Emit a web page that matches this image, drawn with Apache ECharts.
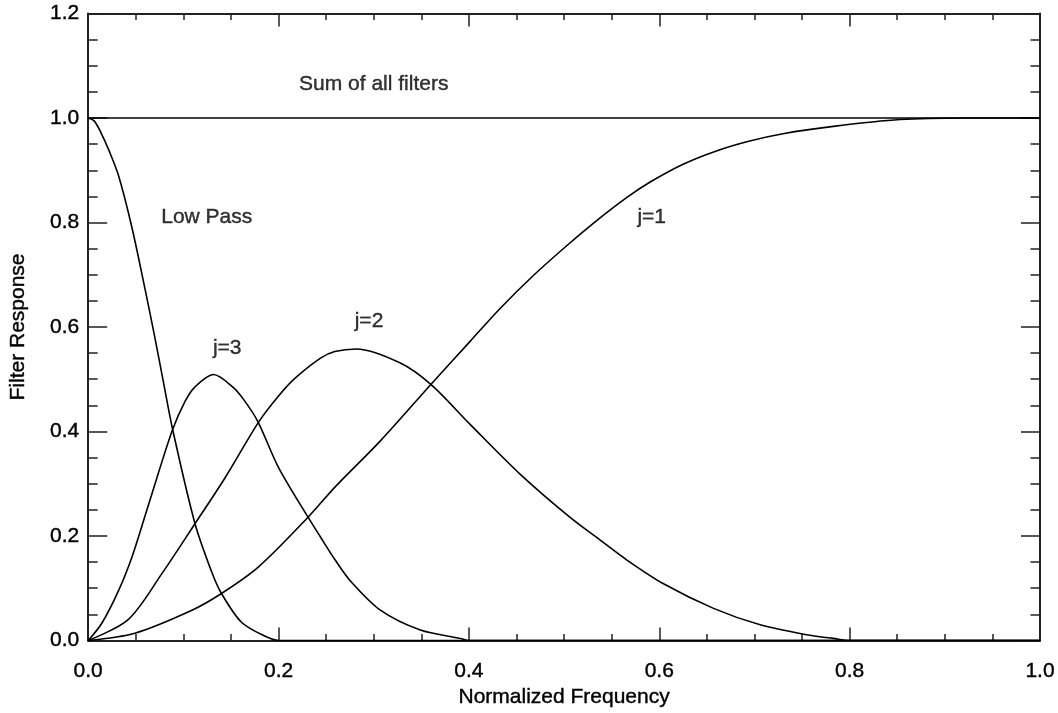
<!DOCTYPE html>
<html>
<head>
<meta charset="utf-8">
<script src="https://cdn.jsdelivr.net/npm/echarts@6/dist/echarts.min.js"></script>
<style>
html,body{margin:0;padding:0;background:#fff;}
#chart{width:1058px;height:713px;}
</style>
</head>
<body>
<div id="chart"></div>
<script>
// ---- data ----
var xTickLabels = ['0.0', '0.2', '0.4', '0.6', '0.8', '1.0'];
var yTickLabels = ['0.0', '0.2', '0.4', '0.6', '0.8', '1.0', '1.2'];

var sumX = [0, 1.0];
var sumY = [1.0, 1.0];

var lowX = [0, 0.006, 0.0126, 0.022, 0.032, 0.046, 0.060, 0.070, 0.079, 0.0887, 0.112, 0.130, 0.140, 0.161, 0.186, 0.200, 1.0];
var lowY = [1.0, 0.995, 0.975, 0.937, 0.889, 0.790, 0.670, 0.580, 0.495, 0.404, 0.225, 0.130, 0.090, 0.035, 0.008, 0.0, 0.0];

var j3X = [0, 0.0143, 0.032, 0.046, 0.060, 0.074, 0.0887, 0.1019, 0.112, 0.1317, 0.152, 0.163, 0.178, 0.200, 0.231, 0.2437, 0.2595, 0.275, 0.307, 0.349, 0.391, 0.400, 1.0];
var j3Y = [0, 0.033, 0.096, 0.160, 0.240, 0.322, 0.404, 0.458, 0.485, 0.509, 0.485, 0.462, 0.420, 0.331, 0.236, 0.199, 0.154, 0.115, 0.058, 0.020, 0.004, 0.0, 0.0];

var j2X = [0, 0.042, 0.0774, 0.112, 0.144, 0.179, 0.200, 0.2174, 0.2437, 0.259, 0.282, 0.328, 0.360, 0.401, 0.454, 0.506, 0.538, 0.566, 0.604, 0.657, 0.706, 0.755, 0.783, 0.800, 1.0];
var j2Y = [0, 0.040, 0.128, 0.223, 0.312, 0.418, 0.468, 0.502, 0.540, 0.553, 0.558, 0.531, 0.490, 0.414, 0.318, 0.236, 0.192, 0.154, 0.109, 0.0615, 0.030, 0.011, 0.004, 0.0, 0.0];

var j1X = [0, 0.049, 0.109, 0.140, 0.179, 0.231, 0.259, 0.307, 0.360, 0.401, 0.433, 0.468, 0.503, 0.531, 0.566, 0.590, 0.625, 0.660, 0.695, 0.730, 0.783, 0.853, 0.920, 1.0];
var j1Y = [0, 0.014, 0.058, 0.090, 0.141, 0.236, 0.293, 0.382, 0.490, 0.572, 0.636, 0.699, 0.756, 0.799, 0.848, 0.877, 0.9115, 0.937, 0.956, 0.970, 0.984, 0.997, 1.0, 1.0];

var annoText = ['Sum of all filters', 'Low Pass', 'j=3', 'j=2', 'j=1'];
var annoX = [0.300, 0.0767, 0.131, 0.280, 0.577];
var annoY = [1.064, 0.811, 0.559, 0.611, 0.811];
// --------------------------------------

function pairs(xs, ys) { return xs.map(function (x, i) { return [x, ys[i]]; }); }

var FONT = '"Liberation Sans", Arial, Helvetica, sans-serif';
var AXC = '#222';
var TXT = { color: '#000', fontFamily: FONT, fontSize: 21, textBorderColor: '#000', textBorderWidth: 0.4 };

function lineSeries(name, xs, ys, smooth) {
  return {
    name: name, type: 'line', data: pairs(xs, ys),
    showSymbol: false, symbol: 'none', smooth: smooth,
    lineStyle: { color: '#000', width: 1.6 },
    xAxisIndex: 0, yAxisIndex: 0, z: 3, silent: true
  };
}

var chart = echarts.init(document.getElementById('chart'), null, { renderer: 'canvas' });

var annoSeries = {
  type: 'scatter', xAxisIndex: 0, yAxisIndex: 0, symbolSize: 0, silent: true,
  data: annoText.map(function (t, i) { return { value: [annoX[i], annoY[i]], name: t }; }),
  label: Object.assign({ show: true, position: 'inside', formatter: function (p) { return p.name; } }, TXT),
  z: 5
};
annoSeries.data.forEach(function (d, i) {
  d.label = { align: i === 0 ? 'center' : 'left', verticalAlign: 'middle' };
});

function mkX(show, pos) {
  return {
    type: 'value', min: 0, max: 1, interval: 0.2, position: pos,
    name: show ? 'Normalized Frequency' : '', nameLocation: 'middle', nameGap: 44,
    nameTextStyle: TXT,
    axisLine: { show: true, onZero: false, lineStyle: { color: AXC, width: 2 } },
    axisTick: { show: true, inside: true, length: 13, lineStyle: { color: AXC, width: 1.5 } },
    minorTick: { show: true, splitNumber: 4, length: 6.5, lineStyle: { color: AXC, width: 1.5 } },
    axisLabel: Object.assign({ show: show, margin: 20,
      formatter: function (v) { return xTickLabels[Math.round(v / 0.2)]; } }, TXT),
    splitLine: { show: false }, minorSplitLine: { show: false }
  };
}
function mkY(show, pos) {
  return {
    type: 'value', min: 0, max: 1.2, interval: 0.2, position: pos,
    name: show ? 'Filter Response' : '', nameLocation: 'middle', nameGap: 59, nameRotate: 90,
    nameTextStyle: TXT,
    axisLine: { show: true, onZero: false, lineStyle: { color: AXC, width: 2 } },
    axisTick: { show: true, inside: true, length: 19, lineStyle: { color: AXC, width: 1.5 } },
    minorTick: { show: true, splitNumber: 4, length: 9.5, lineStyle: { color: AXC, width: 1.5 } },
    axisLabel: Object.assign({ show: show, margin: 9,
      formatter: function (v) { return yTickLabels[Math.round(v / 0.2)]; } }, TXT),
    splitLine: { show: false }, minorSplitLine: { show: false }
  };
}

chart.setOption({
  animation: false,
  backgroundColor: '#fff',
  grid: { left: 88, top: 13.5, right: 18, bottom: 69, containLabel: false },
  xAxis: [mkX(true, 'bottom'), mkX(false, 'top')],
  yAxis: [mkY(true, 'left'), mkY(false, 'right')],
  series: [
    lineSeries('Sum', sumX, sumY, false),
    lineSeries('Low Pass', lowX, lowY, 0.3),
    lineSeries('j=3', j3X, j3Y, 0.3),
    lineSeries('j=2', j2X, j2Y, 0.3),
    lineSeries('j=1', j1X, j1Y, 0.3),
    annoSeries
  ]
});
</script>
</body>
</html>
